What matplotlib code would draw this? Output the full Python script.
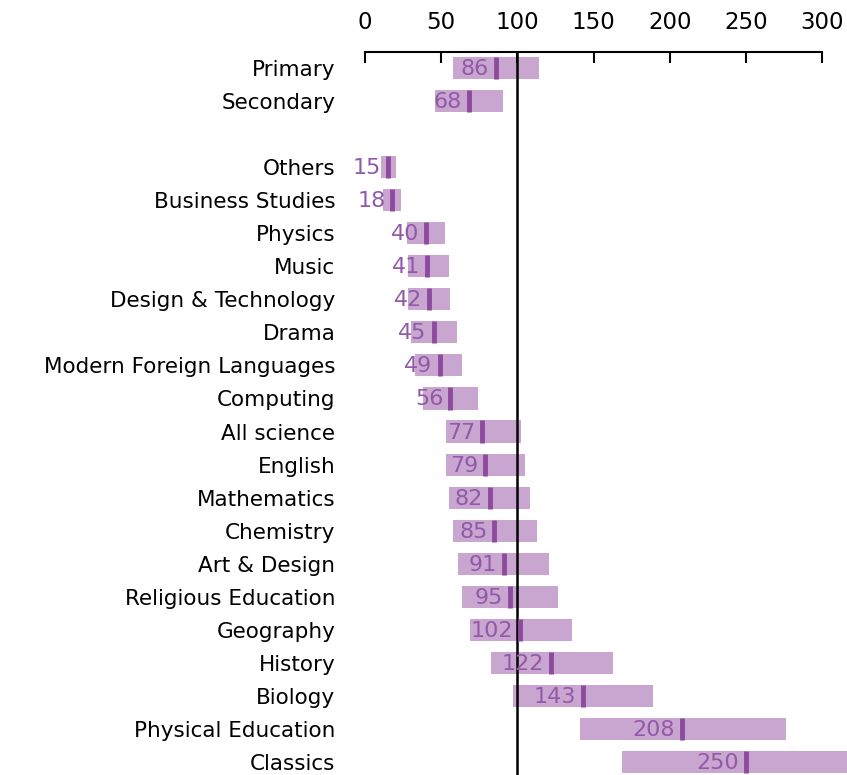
import matplotlib.pyplot as plt

# rows from top; None marks the blank spacer row
labels = ['Primary', 'Secondary', None,
          'Others', 'Business Studies', 'Physics', 'Music', 'Design & Technology',
          'Drama', 'Modern Foreign Languages', 'Computing', 'All science', 'English',
          'Mathematics', 'Chemistry', 'Art & Design', 'Religious Education',
          'Geography', 'History', 'Biology', 'Physical Education', 'Classics']
values = [86, 68, None,
          15, 18, 40, 41, 42, 45, 49, 56, 77, 79, 82, 85, 91, 95, 102, 122, 143, 208, 250]
lows = [58, 46, None,
        10.5, 12, 27.5, 28, 28, 30.5, 33, 38, 53, 53.5, 55, 57.5, 61, 64, 69, 83, 97, 141, 169]
highs = [114, 90.5, None,
         20.5, 23.5, 52.5, 55, 56, 60.5, 64, 74, 102.5, 105, 108, 113, 120.5, 126.5, 136, 162.5, 189, 276.5, 340]

bar_col = '#c9a6cf'
mark_col = '#8e4a9e'
text_col = '#9159a8'

fig = plt.figure(figsize=(8.47, 7.75), dpi=100)
ax = fig.add_axes([345 / 847, 0, 502 / 847, 723 / 775])

px = 457 / 300  # pixels per unit
ax.set_xlim((345 - 365) / px, (847 - 365) / px)
ax.set_ylim(21 + 13 / 33.05, -16 / 33.05)

h = 0.67
for i, (lab, v, lo, hi) in enumerate(zip(labels, values, lows, highs)):
    if lab is None:
        continue
    ax.barh(i, hi - lo, left=lo, height=h, color=bar_col, zorder=1)
    ax.plot([v, v], [i - h / 2, i + h / 2], color=mark_col, lw=3.5, solid_capstyle='butt', zorder=3)
    ax.text(v - 7 / px, i + 0.03, str(v), ha='right', va='center', color=text_col,
            fontsize=16, zorder=4)

ax.axvline(100, color='black', lw=1.8, zorder=2)

ax.set_yticks([i for i, l in enumerate(labels) if l is not None])
ax.set_yticklabels([l for l in labels if l is not None], fontsize=15.5)
ax.tick_params(axis='y', length=0, pad=7)

ax.xaxis.tick_top()
ax.set_xticks(range(0, 301, 50))
ax.tick_params(axis='x', direction='in', length=8, width=1.5, labelsize=16.5, pad=13)
for s in ['left', 'right', 'bottom']:
    ax.spines[s].set_visible(False)
ax.spines['top'].set_bounds(0, 300)
ax.spines['top'].set_linewidth(1.5)

fig.savefig('out.png', dpi=100)
